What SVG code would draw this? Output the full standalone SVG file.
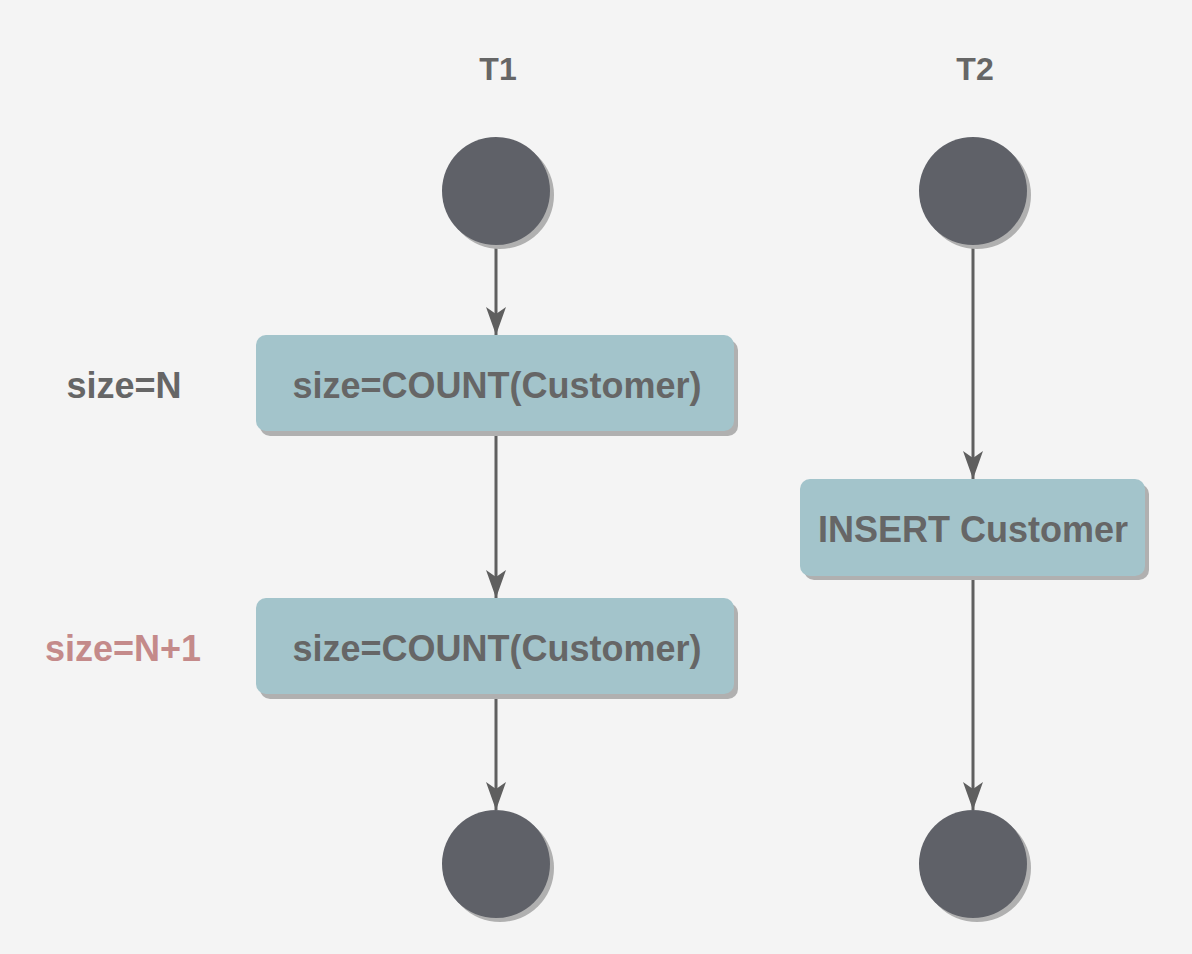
<svg xmlns="http://www.w3.org/2000/svg" width="1192" height="954" viewBox="0 0 1192 954">
<defs>
<style>
.lbl{font-family:"Liberation Sans",Arial,sans-serif;font-weight:bold;fill:#666666;text-anchor:middle}
.box{fill:#a3c4cb}
.bsh{fill:#b0b0b0}
.circ{fill:#5f6168}
.csh{fill:#b0b0b0}
.con{stroke:#5f5f5f;stroke-width:3;fill:none;marker-end:url(#arr)}
</style>
<marker id="arr" markerUnits="userSpaceOnUse" markerWidth="30" markerHeight="24" viewBox="-28 -11 30 22" refX="0" refY="0" orient="auto">
<path d="M0,0 L-28,-10 L-21,0 L-28,10 Z" fill="#5f5f5f"/>
</marker>
</defs>
<rect width="1192" height="954" fill="#f4f4f4"/>
<g id="title-t1"><text class="lbl" x="498" y="80" font-size="32">T1</text></g>
<g id="title-t2"><text class="lbl" x="975" y="80" font-size="32">T2</text></g>
<g id="connectors">
<line class="con" x1="496" y1="245" x2="496" y2="335"/>
<line class="con" x1="496" y1="431" x2="496" y2="598"/>
<line class="con" x1="496" y1="694" x2="496" y2="810"/>
<line class="con" x1="973" y1="245" x2="973" y2="479"/>
<line class="con" x1="973" y1="576" x2="973" y2="810"/>
</g>
<g id="start1"><circle class="csh" cx="500" cy="195" r="54"/><circle class="circ" cx="496" cy="191" r="54"/></g>
<g id="start2"><circle class="csh" cx="977" cy="195" r="54"/><circle class="circ" cx="973" cy="191" r="54"/></g>
<g id="end1"><circle class="csh" cx="500" cy="868" r="54"/><circle class="circ" cx="496" cy="864" r="54"/></g>
<g id="end2"><circle class="csh" cx="977" cy="868" r="54"/><circle class="circ" cx="973" cy="864" r="54"/></g>
<g id="box1">
<rect class="bsh" x="260" y="340" width="478" height="96" rx="10"/>
<rect class="box" x="256" y="335" width="478" height="96" rx="10"/>
<text class="lbl" x="497" y="398" font-size="36">size=COUNT(Customer)</text>
</g>
<g id="box2">
<rect class="bsh" x="260" y="603" width="478" height="96" rx="10"/>
<rect class="box" x="256" y="598" width="478" height="96" rx="10"/>
<text class="lbl" x="497" y="661" font-size="36">size=COUNT(Customer)</text>
</g>
<g id="box3">
<rect class="bsh" x="804" y="484" width="345" height="96" rx="10"/>
<rect class="box" x="800" y="479" width="345" height="97" rx="10"/>
<text class="lbl" x="973" y="542" font-size="36">INSERT Customer</text>
</g>
<g id="label-n"><text class="lbl" x="124" y="398" font-size="36">size=N</text></g>
<g id="label-n1"><text class="lbl" x="123" y="661" font-size="36" style="fill:#c48a8a">size=N+1</text></g>
</svg>
